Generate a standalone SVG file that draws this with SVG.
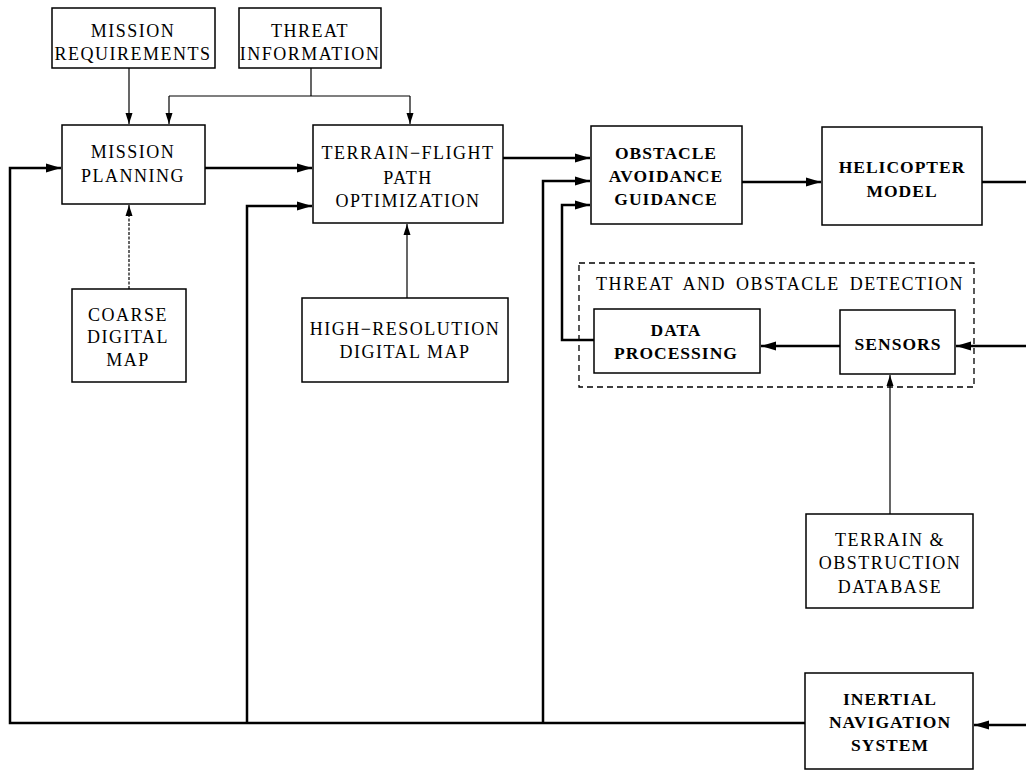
<svg xmlns="http://www.w3.org/2000/svg" width="1026" height="770" viewBox="0 0 1026 770">
<defs>
<marker id="ah" markerUnits="userSpaceOnUse" markerWidth="16" markerHeight="10" refX="15" refY="5" orient="auto">
<path d="M0,0.5 L15,5 L0,9.5 Z" fill="#000"/>
</marker>
<marker id="ahs" markerUnits="userSpaceOnUse" markerWidth="12" markerHeight="10" refX="11" refY="4" orient="auto">
<path d="M0,0.5 L11,4 L0,7.5 Z" fill="#000"/>
</marker>
</defs>
<style>
.box{fill:#fff;stroke:#000;stroke-width:1.5}
.thin{fill:none;stroke:#000;stroke-width:1.2}
.thick{fill:none;stroke:#000;stroke-width:2.5}
text{font-family:"Liberation Serif","Times New Roman",serif;font-size:18px;text-anchor:middle;fill:#000;letter-spacing:1.5px}
.b{font-weight:bold;font-size:17.5px;letter-spacing:1px}
</style>
<rect width="1026" height="770" fill="#fff"/>
<g id="connectors">
<path class="thin" d="M129,68 V124" marker-end="url(#ahs)"/>
<path class="thin" d="M311,68 V96 M169,96 H410"/>
<path class="thin" d="M169,96 V124" marker-end="url(#ahs)"/>
<path class="thin" d="M410,96 V124" marker-end="url(#ahs)"/>
<path class="thick" d="M205,168 H312" marker-end="url(#ah)"/>
<path class="thick" d="M805,723 H10 V168 H61" marker-end="url(#ah)"/>
<path class="thick" d="M247,723 V206 H312" marker-end="url(#ah)"/>
<path class="thick" d="M503,158 H590" marker-end="url(#ah)"/>
<path class="thick" d="M543,723 V181 H590" marker-end="url(#ah)"/>
<path class="thick" d="M594,340 H562 V205 H590" marker-end="url(#ah)"/>
<path class="thick" d="M742,182 H821" marker-end="url(#ah)"/>
<path class="thick" d="M982,182 H1026"/>
<path class="thick" d="M840,346 H761" marker-end="url(#ah)"/>
<path class="thick" d="M1026,346 H956" marker-end="url(#ah)"/>
<path class="thick" d="M1026,725 H974" marker-end="url(#ah)"/>
<path class="thin" d="M129,289 V205" marker-end="url(#ahs)" stroke-dasharray="3,1.5"/>
<path class="thin" d="M407,298 V224" marker-end="url(#ahs)"/>
<path class="thin" d="M890,514 V375" marker-end="url(#ahs)"/>
</g>
<g id="threat-obstacle-detection">
<rect x="579" y="263" width="395" height="124" fill="none" stroke="#000" stroke-width="1.3" stroke-dasharray="6,4"/>
<text x="780" y="290" style="word-spacing:4px">THREAT AND OBSTACLE DETECTION</text>
</g>
<g id="mission-requirements">
<rect class="box" x="52" y="8" width="163" height="60"/>
<text x="133" y="37">MISSION</text>
<text x="133" y="60">REQUIREMENTS</text>
</g>
<g id="threat-information">
<rect class="box" x="239" y="8" width="142" height="60"/>
<text x="310" y="37">THREAT</text>
<text x="310" y="60">INFORMATION</text>
</g>
<g id="mission-planning">
<rect class="box" x="62" y="125" width="143" height="79"/>
<text x="133" y="158">MISSION</text>
<text x="133" y="182">PLANNING</text>
</g>
<g id="terrain-flight">
<rect class="box" x="313" y="125" width="190" height="98"/>
<text x="408" y="159">TERRAIN−FLIGHT</text>
<text x="408" y="184">PATH</text>
<text x="408" y="207">OPTIMIZATION</text>
</g>
<g id="obstacle-avoidance">
<rect class="box" x="591" y="126" width="151" height="98"/>
<text class="b" x="666" y="159">OBSTACLE</text>
<text class="b" x="666" y="182">AVOIDANCE</text>
<text class="b" x="666" y="205">GUIDANCE</text>
</g>
<g id="helicopter-model">
<rect class="box" x="822" y="127" width="160" height="98"/>
<text class="b" x="902" y="173">HELICOPTER</text>
<text class="b" x="902" y="197">MODEL</text>
</g>
<g id="coarse-map">
<rect class="box" x="72" y="289" width="114" height="93"/>
<text x="128" y="321">COARSE</text>
<text x="128" y="343">DIGITAL</text>
<text x="128" y="366">MAP</text>
</g>
<g id="high-res-map">
<rect class="box" x="302" y="298" width="206" height="84"/>
<text x="405" y="335">HIGH−RESOLUTION</text>
<text x="405" y="358">DIGITAL MAP</text>
</g>
<g id="data-processing">
<rect class="box" x="594" y="309" width="166" height="64"/>
<text class="b" x="676" y="336">DATA</text>
<text class="b" x="676" y="359">PROCESSING</text>
</g>
<g id="sensors">
<rect class="box" x="840" y="310" width="115" height="64"/>
<text class="b" x="898" y="350">SENSORS</text>
</g>
<g id="terrain-database">
<rect class="box" x="806" y="514" width="167" height="94"/>
<text x="890" y="546">TERRAIN &amp;</text>
<text x="890" y="569">OBSTRUCTION</text>
<text x="890" y="593">DATABASE</text>
</g>
<g id="inertial-navigation">
<rect class="box" x="805" y="673" width="168" height="96"/>
<text class="b" x="890" y="705">INERTIAL</text>
<text class="b" x="890" y="728">NAVIGATION</text>
<text class="b" x="890" y="751">SYSTEM</text>
</g>
</svg>
